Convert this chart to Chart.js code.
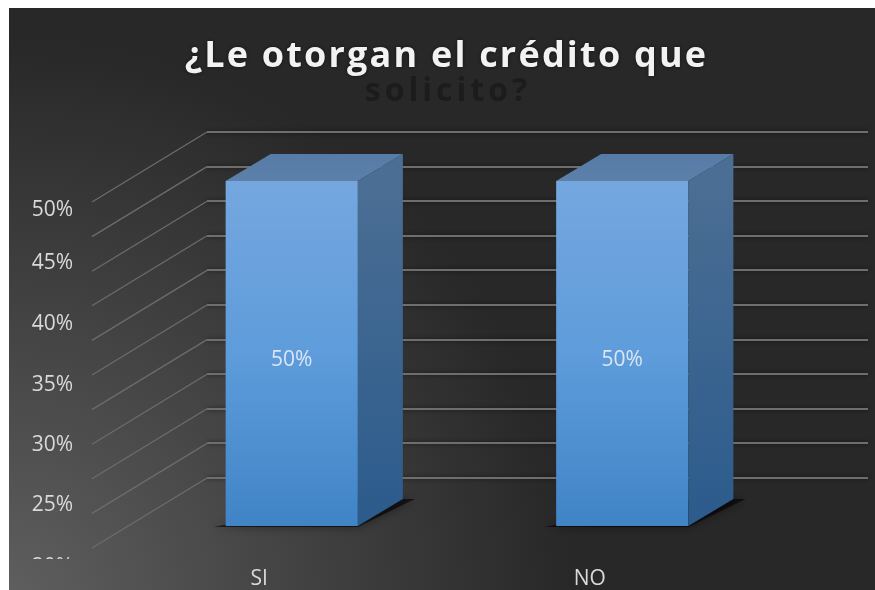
<!DOCTYPE html>
<html>
<head>
<meta charset="utf-8">
<style>
  html, body { margin: 0; padding: 0; background: #fff; }
  #wrap { width: 875px; height: 590px; }
</style>
<script src="https://cdn.jsdelivr.net/npm/chart.js@4"></script>
</head>
<body>
<div id="wrap"><canvas id="chart"></canvas></div>
<script>
// data
const categories = ['SI', 'NO'];
const creditValues = [50, 50];
const yTickLabels = ['50%', '45%', '40%', '35%', '30%', '25%', '20%'];
const titleFirstLine = '¿Le otorgan el crédito que';
const titleSecondLine = 'solicito?';

// the labels in the picture do not follow the gridlines, so they get their own rows
const yLabelRows = [210, 263, 324, 385, 445, 505, 567];

const uiFont = '"Open Sans", sans-serif';
const depthX = 115;
const depthY = 70;
const frontX = -80.5;
const frontY = 49;
const barDepthX = 45;
const barDepthY = 27;

function fillPoly(ctx, pts, fill) {
  ctx.beginPath();
  pts.forEach((p, i) => i ? ctx.lineTo(p[0], p[1]) : ctx.moveTo(p[0], p[1]));
  ctx.closePath();
  ctx.fillStyle = fill;
  ctx.fill();
}

const backdrop = {
  id: 'backdrop',
  beforeDraw(chart) {
    const ctx = chart.ctx;
    const bg = ctx.createRadialGradient(9, 600, 0, 9, 600, 560);
    bg.addColorStop(0, '#5f5f5f');
    bg.addColorStop(0.45, '#464646');
    bg.addColorStop(1, '#282828');
    ctx.fillStyle = bg;
    ctx.fillRect(9, 8, chart.width - 9, chart.height - 8);
    // the title layer picks these up, reset again before the bars
    ctx.letterSpacing = '2.2px';
    ctx.shadowColor = 'rgba(0,0,0,0.55)';
    ctx.shadowBlur = 4;
  }
};

const wall = {
  id: 'wall',
  beforeDatasetsDraw(chart) {
    const ctx = chart.ctx;
    const yScale = chart.scales.y;
    const left = chart.chartArea.left;
    ctx.letterSpacing = '0px';
    ctx.shadowColor = 'transparent';
    ctx.shadowBlur = 0;

    // dark second title line, half hidden in the original
    ctx.save();
    ctx.font = 'bold 32px ' + uiFont;
    ctx.letterSpacing = '4px';
    ctx.fillStyle = '#1c1c1c';
    ctx.textAlign = 'center';
    ctx.textBaseline = 'middle';
    ctx.filter = 'blur(0.6px)';
    ctx.fillText(titleSecondLine, 448, 92);
    ctx.restore();

    ctx.save();
    ctx.strokeStyle = '#6c6c6c';
    ctx.lineWidth = 1.3;
    yScale.ticks.forEach(tick => {
      const y = yScale.getPixelForValue(tick.value);
      ctx.beginPath();
      ctx.moveTo(left, y);
      ctx.lineTo(left - depthX, y + depthY);
      ctx.stroke();
    });
    ctx.restore();

    // y labels, cut off at the bottom like the original
    ctx.save();
    ctx.beginPath();
    ctx.rect(9, 8, 200, 551);
    ctx.clip();
    ctx.font = '21px ' + uiFont;
    ctx.fillStyle = '#d9d9d9';
    ctx.textAlign = 'right';
    ctx.textBaseline = 'middle';
    yTickLabels.forEach((label, i) => ctx.fillText(label, 73, yLabelRows[i]));
    ctx.restore();

    // soft shadow on the floor
    ctx.save();
    ctx.translate(frontX, frontY);
    ctx.shadowColor = 'rgba(0,0,0,0.7)';
    ctx.shadowBlur = 10;
    chart.getDatasetMeta(0).data.forEach(bar => {
      const x1 = bar.x - bar.width / 2;
      const x2 = bar.x + bar.width / 2;
      fillPoly(ctx, [[x1 - 12, bar.base + 1], [x2, bar.base + 1],
        [x2 + barDepthX + 12, bar.base - barDepthY], [x2, bar.base - barDepthY]], 'rgba(0,0,0,0.6)');
    });
    ctx.restore();

    // bars sit in front of the wall
    ctx.save();
    ctx.translate(frontX, frontY);
  },
  afterDatasetsDraw(chart) {
    const ctx = chart.ctx;
    chart.getDatasetMeta(0).data.forEach((bar, i) => {
      const x2 = bar.x + bar.width / 2;
      const x1 = bar.x - bar.width / 2;

      const top = ctx.createLinearGradient(0, bar.y - barDepthY, 0, bar.y);
      top.addColorStop(0, '#567ba6');
      top.addColorStop(1, '#5c80aa');
      fillPoly(ctx, [[x1, bar.y], [x2, bar.y], [x2 + barDepthX, bar.y - barDepthY], [x1 + barDepthX, bar.y - barDepthY]], top);

      const side = ctx.createLinearGradient(0, bar.y, 0, bar.base);
      side.addColorStop(0, '#4b6e94');
      side.addColorStop(1, '#2b5b8c');
      fillPoly(ctx, [[x2, bar.y], [x2 + barDepthX, bar.y - barDepthY], [x2 + barDepthX, bar.base - barDepthY], [x2, bar.base]], side);

      ctx.font = '21px ' + uiFont;
      ctx.fillStyle = '#dbe6f2';
      ctx.textAlign = 'center';
      ctx.textBaseline = 'middle';
      ctx.fillText(creditValues[i] + '%', bar.x, (bar.y + bar.base) / 2 + 7);
    });
    ctx.restore();
  }
};

new Chart(document.getElementById('chart'), {
  type: 'bar',
  data: {
    labels: categories,
    datasets: [{
      data: creditValues,
      clip: false,
      barPercentage: 0.4,
      categoryPercentage: 1,
      backgroundColor(context) {
        const area = context.chart.chartArea;
        if (!area) return '#5b9bd5';
        const g = context.chart.ctx.createLinearGradient(0, area.top, 0, area.bottom);
        g.addColorStop(0, '#75a7df');
        g.addColorStop(0.5, '#5e9cdb');
        g.addColorStop(1, '#4084c6');
        return g;
      }
    }]
  },
  options: {
    responsive: true,
    maintainAspectRatio: false,
    animation: false,
    layout: { padding: { top: 16, left: 25, right: 7, bottom: 2 } },
    plugins: {
      legend: { display: false },
      tooltip: { enabled: false },
      title: {
        display: true,
        text: titleFirstLine,
        color: '#f2f2f2',
        font: { family: uiFont, size: 36, weight: 'bold', lineHeight: 0.95 },
        padding: { top: 24, bottom: 57.8 }
      }
    },
    scales: {
      x: {
        afterFit(scale) { scale.height = 110; },
        grid: { display: false },
        border: { display: false },
        ticks: {
          z: 1,
          color: '#d9d9d9',
          font: { family: uiFont, size: 21 },
          padding: 80,
          labelOffset: -113,
          maxRotation: 0,
          autoSkip: false
        }
      },
      y: {
        min: 0,
        max: 50,
        afterFit(scale) { scale.width = 182; },
        grid: { color: '#6e6e6e', lineWidth: 2, drawTicks: false },
        border: { display: false },
        ticks: { display: false, stepSize: 5 }
      }
    }
  },
  plugins: [backdrop, wall]
});
</script>
</body>
</html>
